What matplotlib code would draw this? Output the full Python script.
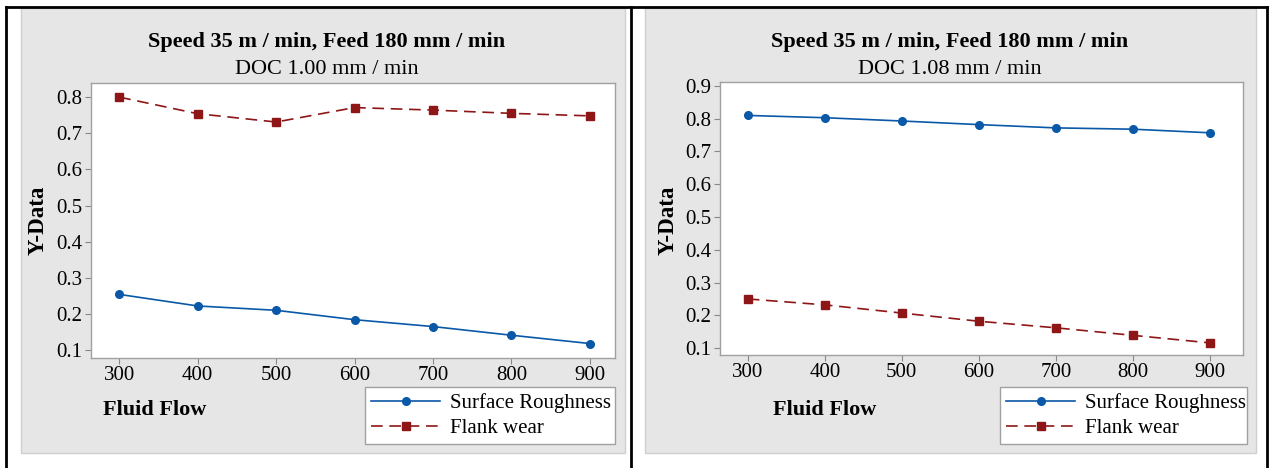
import matplotlib
matplotlib.use("Agg")
import matplotlib.pyplot as plt
from matplotlib.patches import Rectangle
from matplotlib.lines import Line2D

plt.rcParams['font.family'] = ['Liberation Serif', 'DejaVu Serif']

fluid_flow = [300, 400, 500, 600, 700, 800, 900]

# left panel, DOC 1.00
rough_100 = [0.254, 0.222, 0.210, 0.184, 0.165, 0.141, 0.118]
flank_100 = [0.800, 0.754, 0.731, 0.771, 0.764, 0.755, 0.748]
# right panel, DOC 1.08
rough_108 = [0.810, 0.803, 0.793, 0.782, 0.772, 0.768, 0.757]
flank_108 = [0.250, 0.232, 0.207, 0.182, 0.162, 0.139, 0.116]

titles = ["DOC 1.00 mm / min", "DOC 1.08 mm / min"]
main_title = "Speed 35 m / min, Feed 180 mm / min"
yticks_sets = [[0.1, 0.2, 0.3, 0.4, 0.5, 0.6, 0.7, 0.8],
               [0.1, 0.2, 0.3, 0.4, 0.5, 0.6, 0.7, 0.8, 0.9]]

W, H = 1271, 468
blue = "#0a58a8"
red = "#8e1616"
grey_bg = "#e6e6e6"

fig = plt.figure(figsize=(W / 100, H / 100), dpi=100)
fig.patch.set_facecolor("white")


def box(x0, y0, x1, y1):
    # pixel box (top-left origin) -> figure fraction rect
    return [x0 / W, 1 - y1 / H, (x1 - x0) / W, (y1 - y0) / H]


# outer black table lines
for x in [6, 631, 1267]:
    fig.add_artist(Line2D([x / W, x / W], [0, 1 - 7 / H], color="black", lw=2))
fig.add_artist(Line2D([6 / W, 1267 / W], [1 - 7 / H, 1 - 7 / H], color="black", lw=2))

panels = [
    dict(bg=(21, 8, 625, 453), ax=(91, 83, 615, 358), xlim=(264, 932), ylim=(0.078, 0.839),
         rough=rough_100, flank=flank_100, leg=(365, 387, 615, 448), xlab=(155, 410),
         ylab=38, title_x=327),
    dict(bg=(645, 8, 1256, 453), ax=(720, 82, 1243, 355), xlim=(264, 943), ylim=(0.079, 0.912),
         rough=rough_108, flank=flank_108, leg=(1000, 387, 1247, 447), xlab=(825, 410),
         ylab=668, title_x=950),
]

for i, p in enumerate(panels):
    bg = p["bg"]
    fig.add_artist(Rectangle((bg[0] / W, 1 - bg[3] / H), (bg[2] - bg[0]) / W, (bg[3] - bg[1]) / H,
                             transform=fig.transFigure, facecolor=grey_bg, edgecolor="#cfcfcf",
                             lw=1, zorder=0))
    ax = fig.add_axes(box(*p["ax"]))
    ax.set_facecolor("white")
    ax.plot(fluid_flow, p["rough"], color=blue, lw=1.2, marker="o", ms=5.5,
            label="Surface Roughness")
    ax.plot(fluid_flow, p["flank"], color=red, lw=1.2, ls=(0, (7, 4)), marker="s", ms=6,
            label="Flank wear")
    ax.set_xlim(*p["xlim"])
    ax.set_ylim(*p["ylim"])
    ax.set_xticks(fluid_flow)
    ax.set_yticks(yticks_sets[i])
    ax.set_yticklabels([f"{v:.1f}" for v in yticks_sets[i]])
    ax.tick_params(labelsize=15, length=4, color="#888888", pad=2)
    for s in ax.spines.values():
        s.set_color("#a0a0a0")
        s.set_linewidth(1)

    fig.text(p["title_x"] / W, 1 - 42 / H, main_title, ha="center", va="center",
             fontsize=16, fontweight="bold")
    fig.text(p["title_x"] / W, 1 - 69 / H, titles[i], ha="center", va="center", fontsize=16)
    fig.text(p["ylab"] / W, 1 - 220 / H, "Y-Data", ha="center", va="center", rotation=90,
             fontsize=16.5, fontweight="bold")
    fig.text(p["xlab"][0] / W, 1 - p["xlab"][1] / H, "Fluid Flow", ha="center", va="center",
             fontsize=16, fontweight="bold")

    lb = p["leg"]
    leg = fig.legend(handles=ax.get_lines(), loc="upper left",
                     bbox_to_anchor=(lb[0] / W, 1 - lb[3] / H, (lb[2] - lb[0]) / W, (lb[3] - lb[1]) / H),
                     mode="expand", fontsize=15, frameon=True, fancybox=False,
                     framealpha=1, facecolor="white",
                     handlelength=3.3, borderpad=0.3, labelspacing=0.25, handletextpad=0.5,
                     borderaxespad=0)
    leg.get_frame().set_edgecolor("#a0a0a0")
    leg.get_frame().set_linewidth(1)

fig.savefig("out.png", dpi=100)
